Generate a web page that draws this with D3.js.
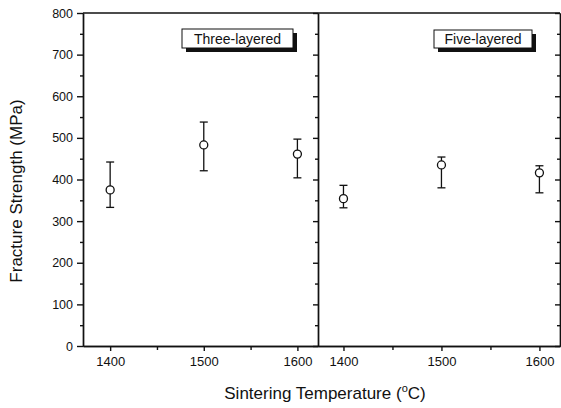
<!DOCTYPE html>
<html>
<head>
<meta charset="utf-8"/>
<style>
  body { margin: 0; background: #fff; }
  svg text { font-family: "Liberation Sans", Arial, sans-serif; fill: #111; }
  .axis path, .axis line { stroke: #111; stroke-width: 1.4; }
</style>
</head>
<body>
<svg id="chart" width="561" height="408"></svg>
<script src="https://d3js.org/d3.v7.min.js"></script>
<script>
// values
const temps = [1400, 1500, 1600];
const panelNames = ["Three-layered", "Five-layered"];
const threeMean = [375, 483, 461];
const threeLow  = [333, 421, 404];
const threeHigh = [442, 538, 497];
const fiveMean  = [354, 435, 416];
const fiveLow   = [332, 380, 368];
const fiveHigh  = [386, 454, 433];
const yTicks = [0, 100, 200, 300, 400, 500, 600, 700, 800];

const svg = d3.select("#chart");
const yTop = 13, yBot = 346;

const y = d3.scaleLinear().domain([0, 800]).range([yBot, yTop]);

// two panels side by side
const panels = [
  { name: panelNames[0], x0: 83,  x1: 318, dom: [1371, 1622], mean: threeMean, low: threeLow, high: threeHigh, box: [182, 29, 111, 19] },
  { name: panelNames[1], x0: 318, x1: 560, dom: [1374, 1621], mean: fiveMean,  low: fiveLow,  high: fiveHigh,  box: [434, 30, 98, 18] }
];

// left axis
svg.append("g").attr("class", "axis")
   .attr("transform", `translate(83,0)`)
   .call(d3.axisLeft(y).tickValues(yTicks).tickSize(6).tickPadding(4).tickSizeOuter(0))
   .call(g => g.selectAll("text").attr("font-size", 12.5).style("fill", "#111"));
svg.append("g").attr("class", "axis")
   .attr("transform", `translate(83,0)`)
   .call(d3.axisLeft(y).tickValues(d3.range(50, 800, 100)).tickSize(3).tickFormat("").tickSizeOuter(0));

panels.forEach(p => {
  const x = d3.scaleLinear().domain(p.dom).range([p.x0, p.x1]);

  // bottom axis
  svg.append("g").attr("class", "axis")
     .attr("transform", `translate(0,${yBot})`)
     .call(d3.axisBottom(x).tickValues(temps).tickFormat(d3.format("d")).tickSize(5).tickPadding(6).tickSizeOuter(0))
     .call(g => g.selectAll("text").attr("font-size", 13).style("fill", "#111"));
  svg.append("g").attr("class", "axis")
     .attr("transform", `translate(0,${yBot})`)
     .call(d3.axisBottom(x).tickValues([1450, 1550]).tickSize(4).tickFormat("").tickSizeOuter(0));

  // top border
  svg.append("line").attr("x1", p.x0).attr("x2", p.x1).attr("y1", yTop).attr("y2", yTop)
     .attr("stroke", "#111").attr("stroke-width", 1.4);

  // right edge with inward ticks
  svg.append("g").attr("class", "axis")
     .attr("transform", `translate(${p.x1},0)`)
     .call(d3.axisLeft(y).tickValues(yTicks).tickSize(5).tickFormat("").tickSizeOuter(0));
  svg.append("g").attr("class", "axis")
     .attr("transform", `translate(${p.x1},0)`)
     .call(d3.axisLeft(y).tickValues(d3.range(50, 800, 100)).tickSize(3).tickFormat("").tickSizeOuter(0));

  // error bars
  const g = svg.append("g");
  temps.forEach((t, i) => {
    const cx = x(t);
    g.append("line").attr("x1", cx).attr("x2", cx).attr("y1", y(p.low[i])).attr("y2", y(p.high[i]))
     .attr("stroke", "#111").attr("stroke-width", 1.3);
    [p.low[i], p.high[i]].forEach(v => {
      g.append("line").attr("x1", cx - 4).attr("x2", cx + 4).attr("y1", y(v)).attr("y2", y(v))
       .attr("stroke", "#111").attr("stroke-width", 1.3);
    });
    g.append("circle").attr("cx", cx).attr("cy", y(p.mean[i])).attr("r", 4)
     .attr("fill", "#fff").attr("stroke", "#111").attr("stroke-width", 1.3);
  });

  // label box with shadow
  const [bx, by, bw, bh] = p.box;
  svg.append("rect").attr("x", bx + 4).attr("y", by + 4).attr("width", bw).attr("height", bh).attr("fill", "#111");
  svg.append("rect").attr("x", bx).attr("y", by).attr("width", bw).attr("height", bh)
     .attr("fill", "#fff").attr("stroke", "#111").attr("stroke-width", 1);
  svg.append("text").attr("x", bx + bw / 2).attr("y", by + bh / 2 + 5)
     .attr("text-anchor", "middle").attr("font-size", 14).text(p.name);
});

// axis titles
svg.append("text")
   .attr("transform", "translate(22,191) rotate(-90)")
   .attr("text-anchor", "middle").attr("font-size", 17)
   .text("Fracture Strength (MPa)");

const xt = svg.append("text").attr("x", 325).attr("y", 399)
   .attr("text-anchor", "middle").attr("font-size", 17);
xt.append("tspan").text("Sintering Temperature (");
xt.append("tspan").attr("dy", -7).attr("font-size", 11).text("o");
xt.append("tspan").attr("dy", 7).text("C)");
</script>
</body>
</html>
